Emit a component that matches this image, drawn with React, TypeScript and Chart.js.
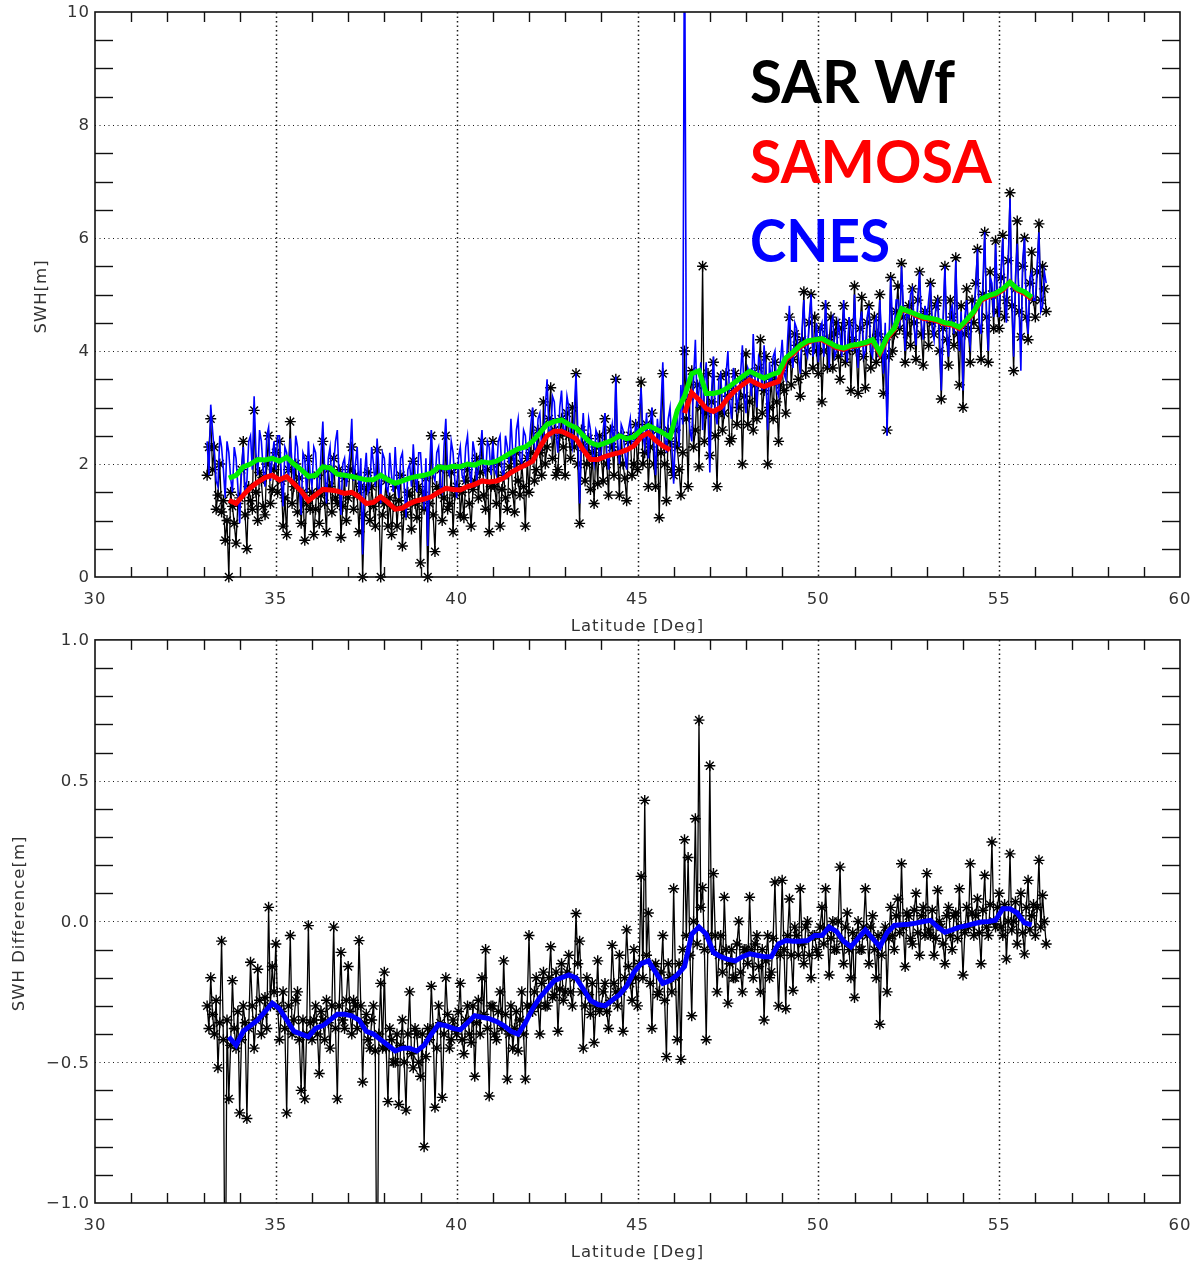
import React, { useEffect, useRef } from 'react';
import { Chart, registerables } from 'chart.js';

Chart.register(...registerables);

// ---------------------------------------------------------------------------
// Sampling grids (degrees north)
// ---------------------------------------------------------------------------
// track samples, one value every 0.05 degree from 33.10N to 56.30N
const TRACK_LAT_START = 33.1;
const TRACK_LAT_STEP = 0.05;
// running-mean curves, one value every 0.2 degree from 33.7N to 55.9N
const MEAN_LAT_START = 33.7;
const MEAN_LAT_STEP = 0.2;

// ---------------------------------------------------------------------------
// Axis ticks
// ---------------------------------------------------------------------------
const LAT_TICKS = [30, 35, 40, 45, 50, 55, 60];
const LAT_MINOR_STEP = 1;
const SWH_TICKS = [0, 2, 4, 6, 8, 10];
const SWH_MINOR_STEP = 0.5;
const DIFF_TICKS = [-1.0, -0.5, 0.0, 0.5, 1.0];
const DIFF_MINOR_STEP = 0.1;

// ---------------------------------------------------------------------------
// SWH [m] along track (rows: 33.10-33.95, one row per degree, 56.00-56.30)
// ---------------------------------------------------------------------------
const SAR_WF_SWH = [
  1.8, 2.3, 2.8, 1.9, 2.3, 1.2, 1.45, 2.0, 1.15, 1.35, 0.65, 1.0, 0.0, 1.5, 1.25, 0.95, 0.6, 1.3,
  1.4, 1.9, 2.4, 1.1, 0.5, 1.6, 1.35, 1.2, 2.95, 1.5, 1.0, 1.85, 1.7, 1.25, 1.1, 2.0, 2.5, 1.3, 1.55, 1.9,
  2.2, 1.5, 2.4, 1.7, 0.9, 1.4, 0.75, 1.9, 2.75, 1.3, 1.6, 2.0, 1.15, 1.75, 0.95, 1.5, 0.65, 1.3, 2.1, 1.2,
  1.5, 0.75, 1.2, 1.8, 0.95, 1.45, 2.4, 1.3, 0.8, 1.9, 1.6, 1.15, 2.1, 1.4, 1.3, 1.9, 0.7, 1.25, 1.75, 1.0,
  1.4, 1.9, 2.3, 1.2, 1.8, 1.45, 0.8, 1.6, 0.0, 1.1, 1.55, 1.85, 1.0, 1.6, 1.25, 0.9, 2.25, 1.35, 0.0, 1.1,
  1.3, 1.7, 0.9, 1.4, 0.75, 1.25, 1.6, 0.9, 1.35, 1.8, 0.55, 1.2, 1.1, 1.5, 1.45, 0.85, 2.05, 1.3, 1.05, 1.6,
  0.25, 1.5, 1.2, 1.75, 0.0, 1.3, 2.5, 1.1, 0.45, 1.6, 1.5, 1.9, 1.0, 1.4, 2.5, 1.2, 1.3, 1.85, 0.8, 1.45,
  1.6, 1.95, 1.1, 1.5, 1.05, 1.7, 1.9, 1.3, 0.9, 1.55, 1.7, 2.1, 1.4, 1.85, 2.4, 1.45, 1.2, 1.9, 0.8, 1.6,
  2.4, 1.6, 1.3, 2.0, 0.9, 1.55, 1.8, 1.4, 1.2, 1.95, 2.1, 1.5, 1.15, 2.2, 1.7, 1.45, 2.0, 1.6, 0.9, 2.1,
  1.5, 2.2, 2.9, 1.7, 1.9, 2.6, 2.2, 1.8, 3.1, 2.0, 2.3, 2.8, 3.35, 2.1, 2.6, 1.8, 1.9, 2.5, 2.8, 2.3,
  1.8, 2.9, 2.5, 2.1, 3.0, 2.3, 3.6, 2.0, 0.95, 2.6, 2.3, 1.7, 2.0, 2.45, 1.55, 2.2, 1.3, 2.3, 1.65, 2.5,
  2.1, 1.7, 2.8, 2.0, 1.45, 2.6, 2.3, 1.8, 3.5, 2.2, 1.45, 2.5, 2.0, 1.75, 1.35, 2.4, 2.5, 1.8, 2.0, 2.7,
  1.9, 2.5, 3.45, 2.0, 2.2, 2.7, 1.6, 2.3, 2.9, 2.0, 1.6, 2.6, 1.05, 2.2, 3.6, 2.0, 1.35, 2.6, 2.4, 1.9,
  1.8, 2.6, 2.3, 1.9, 1.45, 2.2, 4.0, 2.8, 1.6, 3.2, 3.65, 2.3, 2.6, 3.4, 1.95, 3.0, 5.5, 2.4, 2.9, 3.6,
  2.15, 3.1, 3.8, 2.5, 1.6, 2.9, 3.55, 2.6, 2.9, 3.6, 3.2, 2.4, 2.45, 3.3, 3.6, 2.7, 3.0, 3.5, 2.0, 3.2,
  3.95, 2.7, 3.1, 3.6, 2.6, 3.4, 2.8, 3.7, 4.2, 2.9, 3.3, 3.9, 2.0, 3.0, 3.5, 2.8, 3.8, 3.1, 2.4, 3.4,
  3.65, 3.3, 2.9, 3.8, 4.6, 3.4, 3.85, 4.3, 4.1, 3.5, 3.2, 4.2, 5.05, 3.6, 4.0, 4.5, 5.0, 3.7, 4.6, 4.0,
  3.6, 4.4, 3.1, 4.0, 4.8, 3.7, 4.2, 4.6, 3.7, 4.3, 4.5, 3.9, 3.5, 4.4, 4.8, 3.8, 4.0, 4.5, 3.3, 4.2,
  5.15, 4.0, 3.25, 4.4, 4.95, 3.9, 3.35, 4.5, 4.8, 3.7, 4.2, 4.6, 3.8, 4.3, 5.0, 3.9, 3.25, 4.2, 2.6, 3.9,
  5.3, 4.0, 4.3, 4.7, 5.15, 4.4, 5.55, 4.6, 3.8, 4.3, 4.8, 4.1, 5.1, 4.5, 3.85, 4.9, 5.4, 4.3, 3.75, 4.7,
  4.6, 4.1, 5.2, 4.5, 4.3, 4.8, 4.9, 4.0, 3.15, 4.4, 5.5, 4.2, 3.75, 4.9, 4.6, 4.1, 5.65, 4.3, 3.4, 4.8,
  3.0, 4.3, 5.1, 4.4, 3.8, 4.9, 4.5, 5.2, 5.8, 4.4, 3.85, 5.0, 6.1, 4.6, 3.8, 5.4, 5.0, 4.4, 5.95, 4.7,
  4.4, 5.3, 6.05, 4.6, 4.9, 5.6, 6.8, 4.8, 3.65, 5.1, 6.3, 4.7, 4.25, 5.5, 6.0, 4.6, 4.2, 5.2, 5.75, 4.9,
  4.6, 5.4, 6.25, 4.9, 5.5, 5.1, 4.7,
];

const CNES_SWH = [
  2.4, 1.8, 3.05, 2.6, 2.2, 1.7, 1.6, 2.5, 2.3, 1.9, 1.4, 2.4, 2.2, 1.75, 1.5, 2.3, 2.1, 1.6,
  0.95, 1.9, 2.3, 1.5, 1.7, 2.4, 2.5, 1.9, 3.2, 2.2, 1.8, 2.6, 2.4, 1.9, 1.6, 2.5, 2.65, 1.7, 2.1, 2.4,
  1.9, 2.5, 2.5, 1.8, 1.25, 2.3, 2.2, 1.7, 2.45, 2.0, 1.7, 2.5, 2.3, 1.6, 1.1, 2.2, 2.1, 1.5, 2.4, 1.8,
  1.6, 2.3, 2.2, 1.6, 1.5, 2.2, 2.75, 1.9, 1.3, 2.1, 2.3, 1.6, 2.0, 2.4, 2.6, 1.7, 1.1, 2.0, 2.1, 1.6,
  1.9, 2.2, 2.8, 1.7, 2.0, 2.3, 1.5, 2.1, 0.4, 1.8, 2.2, 1.5, 1.6, 2.3, 2.0, 1.6, 2.45, 1.9, 1.3, 2.2,
  2.1, 1.6, 1.5, 2.2, 1.8, 1.5, 2.3, 1.7, 1.4, 2.1, 2.2, 1.6, 1.05, 1.9, 2.0, 1.6, 2.35, 1.8, 1.5, 2.2,
  2.2, 1.7, 1.2, 2.1, 0.55, 1.9, 2.6, 1.8, 1.7, 2.2, 2.3, 1.6, 1.5, 2.3, 2.8, 1.9, 1.8, 2.4, 2.2, 1.7,
  1.4, 2.1, 2.3, 1.8, 1.7, 2.3, 2.5, 1.9, 1.6, 2.4, 2.2, 1.7, 1.9, 2.2, 2.6, 1.9, 1.8, 2.4, 2.3, 1.8,
  2.4, 1.9, 1.8, 2.4, 2.5, 1.9, 1.7, 2.5, 2.3, 2.0, 2.8, 2.2, 1.9, 2.6, 2.8, 2.1, 2.0, 2.6, 2.5, 2.0,
  2.25, 2.7, 3.0, 2.3, 2.2, 2.8, 2.9, 2.3, 2.4, 3.0, 3.5, 2.6, 2.5, 3.2, 3.1, 2.5, 2.2, 3.0, 3.3, 2.6,
  2.6, 3.2, 3.0, 2.5, 2.3, 2.9, 3.6, 2.6, 1.3, 2.4, 2.9, 2.3, 2.2, 2.8, 2.6, 2.2, 2.0, 2.6, 2.5, 2.1,
  2.2, 2.6, 2.9, 2.2, 1.9, 2.5, 2.7, 2.2, 3.55, 2.4, 2.0, 2.7, 2.6, 2.2, 1.9, 2.6, 2.8, 2.3, 2.3, 2.7,
  2.5, 2.9, 3.35, 2.5, 2.3, 2.9, 2.1, 2.7, 3.0, 2.4, 1.8, 2.8, 2.4, 3.0, 3.8, 2.5, 2.2, 2.8, 3.0, 2.3,
  1.65, 2.6, 2.9, 2.3, 3.4, 2.7, 12.0, 3.6, 3.0, 2.6, 2.4, 3.5, 4.2, 3.0, 3.3, 3.8, 2.6, 3.4, 3.8, 2.9,
  1.85, 3.3, 3.9, 2.9, 2.7, 3.5, 3.6, 3.0, 2.9, 3.6, 4.0, 3.1, 2.8, 3.7, 3.5, 3.0, 3.2, 3.6, 4.1, 3.2,
  2.9, 3.7, 3.6, 3.2, 4.3, 3.5, 3.0, 3.9, 3.8, 3.3, 4.1, 3.6, 2.6, 3.8, 3.4, 3.9, 4.0, 3.3, 3.2, 3.8,
  4.2, 3.6, 3.5, 4.2, 4.8, 3.9, 3.7, 4.5, 4.4, 3.9, 3.6, 4.4, 4.9, 4.0, 3.9, 4.6, 5.0, 3.9, 4.1, 4.5,
  3.8, 4.4, 4.5, 3.9, 4.9, 4.2, 3.7, 4.5, 4.6, 3.9, 4.0, 4.5, 4.3, 3.9, 4.9, 4.1, 3.8, 4.6, 4.4, 4.0,
  5.0, 4.1, 3.7, 4.5, 4.7, 3.9, 4.0, 4.6, 4.8, 4.0, 3.9, 4.5, 4.6, 3.9, 4.9, 4.2, 3.6, 4.5, 2.5, 4.0,
  5.3, 4.5, 4.4, 4.9, 4.9, 4.4, 5.5, 4.8, 4.0, 4.7, 4.6, 5.0, 5.1, 4.4, 4.1, 4.9, 5.4, 4.5, 4.2, 4.8,
  4.5, 4.9, 5.2, 4.4, 4.2, 4.8, 4.9, 4.3, 3.3, 4.6, 5.5, 4.3, 3.9, 4.7, 4.8, 4.3, 5.6, 4.5, 4.0, 4.7,
  3.3, 4.6, 4.9, 4.3, 4.1, 4.8, 4.7, 5.1, 5.8, 4.5, 4.3, 5.2, 6.1, 4.7, 4.0, 5.3, 5.2, 4.6, 5.9, 5.0,
  4.6, 5.4, 6.0, 4.9, 4.5, 5.5, 6.7, 5.0, 3.9, 5.3, 5.9, 4.8, 3.65, 5.6, 6.0, 4.8, 4.3, 5.3, 5.4, 4.9,
  4.9, 5.5, 6.1, 4.7, 4.8, 5.4, 5.2,
];

// Running means (rows: 33.7-33.9, then one row per degree)
const SAMOSA_MEAN_SWH = [
  1.36, 1.3,
  1.45, 1.58, 1.68, 1.76, 1.8,
  1.72, 1.78, 1.65, 1.52, 1.35,
  1.45, 1.55, 1.54, 1.52, 1.48,
  1.5, 1.42, 1.3, 1.32, 1.42,
  1.32, 1.2, 1.22, 1.3, 1.35,
  1.38, 1.42, 1.5, 1.57, 1.55,
  1.54, 1.6, 1.64, 1.7, 1.68,
  1.7, 1.75, 1.85, 1.92, 1.98,
  2.05, 2.3, 2.5, 2.58, 2.58,
  2.52, 2.45, 2.25, 2.08, 2.08,
  2.13, 2.17, 2.2, 2.25, 2.32,
  2.48, 2.55, 2.42, 2.32, 2.25,
  null, 2.9, 3.26, 3.14, 2.98,
  2.93, 3.0, 3.17, 3.3, 3.4,
  3.49, 3.42, 3.37, 3.42, 3.46,
  3.85, 3.95, 4.08, 4.15, 4.2,
  4.2, 4.13, 4.06, 4.03, 4.08,
  4.1, 4.13, 4.18, 3.95, 4.22,
  4.38, 4.73, 4.7, 4.63, 4.58,
  4.56, 4.53, 4.48, 4.46, 4.4,
  4.53, 4.68, 4.9, 4.96, 5.0,
  5.08, 5.22, 5.08, 5.02, 4.92,
];

const CNES_MEAN_SWH = [
  1.75, 1.8,
  1.95, 2.0, 2.08, 2.07, 2.1,
  2.05, 2.12, 2.0, 1.9, 1.78,
  1.8, 1.95, 1.93, 1.82, 1.8,
  1.78, 1.75, 1.72, 1.72, 1.8,
  1.72, 1.66, 1.7, 1.75, 1.78,
  1.8, 1.84, 1.95, 1.93, 1.96,
  1.95, 2.0, 1.98, 2.04, 2.02,
  2.05, 2.12, 2.2, 2.27, 2.3,
  2.4, 2.55, 2.7, 2.75, 2.78,
  2.7, 2.64, 2.5, 2.38, 2.33,
  2.37, 2.42, 2.5, 2.45, 2.48,
  2.6, 2.68, 2.62, 2.55, 2.47,
  2.95, 3.2, 3.6, 3.65, 3.25,
  3.25, 3.28, 3.35, 3.45, 3.55,
  3.64, 3.58, 3.52, 3.58, 3.62,
  3.88, 3.98, 4.1, 4.18, 4.2,
  4.22, 4.15, 4.08, 4.05, 4.1,
  4.12, 4.15, 4.2, 3.98, 4.25,
  4.4, 4.75, 4.7, 4.65, 4.6,
  4.58, 4.55, 4.5, 4.48, 4.42,
  4.55, 4.7, 4.92, 4.98, 5.02,
  5.1, 5.22, 5.1, 5.05, 4.95,
];

// ---------------------------------------------------------------------------
// SWH difference [m], same track grid
// ---------------------------------------------------------------------------
const SWH_DIFF = [
  -0.3, -0.38, -0.2, -0.33, -0.4, -0.28, -0.52, -0.36, -0.07, -0.42, -1.5, -0.35, -0.63, -0.44, -0.21, -0.38, -0.45, -0.32,
  -0.68, -0.42, -0.3, -0.36, -0.7, -0.38, -0.145, -0.3, -0.45, -0.35, -0.17, -0.28, -0.4, -0.33, -0.27, -0.38, 0.05, -0.3, -0.16, -0.25,
  -0.08, -0.3, -0.42, -0.32, -0.25, -0.38, -0.68, -0.3, -0.05, -0.4, -0.35, -0.28, -0.25, -0.42, -0.6, -0.35, -0.63, -0.4, -0.015, -0.36,
  -0.42, -0.35, -0.3, -0.4, -0.54, -0.32, -0.35, -0.42, -0.28, -0.36, -0.45, -0.3, -0.02, -0.38, -0.63, -0.3, -0.11, -0.35, -0.38, -0.28,
  -0.16, -0.32, -0.4, -0.28, -0.3, -0.38, -0.068, -0.3, -0.57, -0.36, -0.33, -0.42, -0.45, -0.35, -0.3, -0.46, -1.5, -0.4, -0.22, -0.45,
  -0.18, -0.45, -0.64, -0.38, -0.42, -0.5, -0.5, -0.4, -0.65, -0.44, -0.35, -0.5, -0.67, -0.4, -0.25, -0.47, -0.52, -0.38, -0.4, -0.5,
  -0.55, -0.4, -0.8, -0.48, -0.38, -0.42, -0.23, -0.38, -0.66, -0.45, -0.3, -0.36, -0.625, -0.4, -0.2, -0.33, -0.45, -0.42, -0.35, -0.38,
  -0.4, -0.32, -0.22, -0.42, -0.47, -0.35, -0.3, -0.4, -0.43, -0.3, -0.55, -0.36, -0.28, -0.4, -0.2, -0.33, -0.1, -0.38, -0.62, -0.3,
  -0.3, -0.4, -0.42, -0.32, -0.25, -0.38, -0.14, -0.33, -0.56, -0.4, -0.3, -0.45, -0.38, -0.32, -0.46, -0.35, -0.25, -0.4, -0.56, -0.3,
  -0.05, -0.3, -0.32, -0.25, -0.2, -0.3, -0.4, -0.22, -0.18, -0.3, -0.3, -0.2, -0.09, -0.27, -0.26, -0.18, -0.39, -0.24, -0.15, -0.28,
  -0.25, -0.18, -0.12, -0.25, -0.3, -0.2, 0.028, -0.15, -0.07, -0.25, -0.45, -0.3, -0.2, -0.26, -0.33, -0.22, -0.43, -0.3, -0.14, -0.32,
  -0.3, -0.25, -0.22, -0.32, -0.38, -0.28, -0.085, -0.22, -0.25, -0.3, -0.12, -0.25, -0.39, -0.2, -0.03, -0.16, -0.22, -0.28, -0.1, -0.2,
  -0.3, -0.15, 0.16, -0.2, 0.43, -0.12, 0.03, -0.22, -0.38, -0.16, -0.15, -0.26, -0.25, -0.18, -0.05, -0.28, -0.48, -0.15, -0.2, -0.25,
  0.116, -0.2, -0.42, -0.15, -0.49, -0.1, 0.29, -0.05, 0.227, -0.12, -0.335, 0.0, 0.365, -0.08, 0.715, 0.05, 0.12, -0.1, -0.42, -0.05,
  0.553, -0.1, 0.17, -0.05, -0.25, -0.12, -0.05, -0.18, 0.086, -0.1, -0.29, -0.15, -0.1, -0.2, -0.2, -0.08, 0.0, -0.18, -0.25, -0.1,
  -0.1, -0.15, 0.086, -0.1, -0.2, -0.08, -0.05, -0.16, -0.25, -0.1, -0.35, -0.14, -0.05, -0.2, -0.18, -0.06, 0.14, -0.1, -0.3, -0.12,
  0.146, -0.1, -0.31, -0.05, 0.08, -0.12, -0.245, -0.02, -0.05, -0.12, 0.116, -0.08, -0.15, -0.02, 0.0, -0.12, -0.2, -0.05, -0.05, -0.1,
  -0.12, -0.02, 0.05, -0.08, 0.116, -0.03, -0.19, -0.06, 0.0, -0.1, -0.1, 0.0, 0.193, -0.07, -0.15, -0.02, 0.03, -0.1, -0.2, -0.04,
  -0.27, -0.06, 0.0, -0.1, -0.1, -0.02, 0.116, -0.05, -0.15, -0.02, 0.02, -0.1, -0.2, -0.05, -0.365, -0.12, -0.05, -0.02, -0.25, -0.06,
  0.05, -0.05, -0.1, 0.02, 0.08, -0.04, 0.205, -0.02, -0.16, 0.03, 0.02, -0.06, -0.08, 0.04, 0.1, -0.04, -0.12, 0.02, 0.05, -0.05,
  0.17, -0.03, -0.05, 0.04, -0.12, -0.06, 0.11, 0.0, -0.02, -0.08, -0.15, 0.02, 0.05, -0.05, -0.1, 0.02, 0.03, -0.06, 0.116, -0.02,
  -0.19, -0.04, 0.05, -0.02, 0.205, 0.03, -0.05, 0.02, 0.08, -0.04, -0.15, 0.04, 0.164, -0.02, -0.05, 0.06, 0.282, 0.0, -0.02, 0.05,
  0.1, -0.02, -0.05, 0.06, -0.133, 0.0, 0.24, -0.03, 0.0, 0.07, -0.08, 0.02, 0.1, -0.04, -0.115, 0.05, 0.146, -0.03, 0.02, 0.06,
  -0.05, 0.05, 0.217, -0.02, 0.093, 0.0, -0.08,
];

const SWH_DIFF_MEAN = [
  -0.41, -0.44,
  -0.39, -0.37, -0.35, -0.32, -0.29,
  -0.31, -0.35, -0.39, -0.4, -0.41,
  -0.38, -0.37, -0.35, -0.33, -0.33,
  -0.335, -0.35, -0.39, -0.4, -0.42,
  -0.44, -0.46, -0.45, -0.45, -0.46,
  -0.44, -0.4, -0.365, -0.37, -0.38,
  -0.385, -0.36, -0.335, -0.34, -0.345,
  -0.355, -0.37, -0.39, -0.4, -0.36,
  -0.31, -0.27, -0.24, -0.21, -0.2,
  -0.19, -0.2, -0.24, -0.28, -0.295,
  -0.3, -0.28, -0.26, -0.23, -0.18,
  -0.15, -0.14, -0.18, -0.22, -0.21,
  -0.19, -0.16, -0.045, -0.02, -0.045,
  -0.11, -0.125, -0.135, -0.14, -0.125,
  -0.115, -0.12, -0.125, -0.125, -0.08,
  -0.068, -0.07, -0.07, -0.068, -0.05,
  -0.05, -0.02, -0.035, -0.07, -0.09,
  -0.06, -0.03, -0.06, -0.09, -0.04,
  -0.014, -0.012, -0.01, -0.006, 0.0,
  0.004, -0.02, -0.038, -0.03, -0.02,
  -0.015, -0.008, -0.002, 0.0, 0.004,
  0.045, 0.045, 0.03, -0.005, -0.012,
];

// ---------------------------------------------------------------------------
// Helpers
// ---------------------------------------------------------------------------
type Pt = { x: number; y: number | null };

const onGrid = (values: (number | null)[], start: number, step: number): Pt[] =>
  values.map((v, i) => ({ x: Math.round((start + i * step) * 1000) / 1000, y: v }));

const BLACK = '#000000';
const RED = '#ff0000';
const GREEN = '#00ee00';
const BLUE = '#0000ff';
const INK = '#333333';
const LABEL_FONT = '16.5px "DejaVu Sans"';

interface LegendLine {
  text: string;
  color: string;
  width: number;
}

interface FrameCfg {
  xTicks: number[];
  xMinor: number;
  yTicks: number[];
  yMinor: number;
  yLabel: (v: number) => string;
  xTitle: string;
  yTitle: string;
  yTitleX: number;
  yTitleShift: number;
  legend?: LegendLine[];
}

const strokeLine = (ctx: CanvasRenderingContext2D, x1: number, y1: number, x2: number, y2: number) => {
  ctx.beginPath();
  ctx.moveTo(x1, y1);
  ctx.lineTo(x2, y2);
  ctx.stroke();
};

const isMajor = (v: number, ticks: number[]) => ticks.some((t) => Math.abs(t - v) < 1e-6);

// IDL-style box: dotted grid at major ticks, inward minor ticks on all four
// sides, tick labels, axis titles and an optional coloured text legend.
function makeFramePlugin(cfg: FrameCfg) {
  return {
    id: 'idlFrame',
    beforeDatasetsDraw(chart: Chart) {
      const { ctx, chartArea: a } = chart;
      const xs = chart.scales.x;
      const ys = chart.scales.y;
      ctx.save();
      ctx.strokeStyle = '#1a1a1a';
      ctx.lineWidth = 1.5;
      ctx.setLineDash([1.5, 3]);
      for (const t of cfg.xTicks) {
        if (t <= xs.min || t >= xs.max) continue;
        const px = Math.round(xs.getPixelForValue(t)) + 0.5;
        strokeLine(ctx, px, a.top, px, a.bottom);
      }
      ctx.lineWidth = 1;
      ctx.setLineDash([1, 3.5]);
      for (const t of cfg.yTicks) {
        if (t <= ys.min || t >= ys.max) continue;
        const py = Math.round(ys.getPixelForValue(t)) + 0.5;
        strokeLine(ctx, a.left, py, a.right, py);
      }
      ctx.restore();
    },
    afterDatasetsDraw(chart: Chart) {
      const { ctx, chartArea: a } = chart;
      const xs = chart.scales.x;
      const ys = chart.scales.y;
      ctx.save();
      ctx.strokeStyle = '#111';
      ctx.setLineDash([]);

      // minor ticks
      ctx.lineWidth = 1.4;
      const xLen = 10;
      const yLen = 18;
      const nx = Math.round((xs.max - xs.min) / cfg.xMinor);
      for (let k = 1; k < nx; k++) {
        const v = xs.min + k * cfg.xMinor;
        if (isMajor(v, cfg.xTicks)) continue;
        const px = Math.round(xs.getPixelForValue(v)) + 0.5;
        strokeLine(ctx, px, a.bottom, px, a.bottom - xLen);
        strokeLine(ctx, px, a.top, px, a.top + xLen);
      }
      const ny = Math.round((ys.max - ys.min) / cfg.yMinor);
      for (let k = 1; k < ny; k++) {
        const v = ys.min + k * cfg.yMinor;
        if (isMajor(v, cfg.yTicks)) continue;
        const py = Math.round(ys.getPixelForValue(v)) + 0.5;
        strokeLine(ctx, a.left, py, a.left + yLen, py);
        strokeLine(ctx, a.right, py, a.right - yLen, py);
      }

      // box
      ctx.lineWidth = 1.6;
      ctx.strokeRect(a.left, a.top, a.right - a.left, a.bottom - a.top);

      // tick labels
      ctx.fillStyle = INK;
      ctx.font = LABEL_FONT;
      (ctx as any).letterSpacing = '1px';
      ctx.textAlign = 'center';
      ctx.textBaseline = 'middle';
      for (const t of cfg.xTicks) {
        ctx.fillText(String(t), xs.getPixelForValue(t), a.bottom + 23);
      }
      ctx.textAlign = 'right';
      for (const t of cfg.yTicks) {
        ctx.fillText(cfg.yLabel(t), a.left - 5, ys.getPixelForValue(t) + 1);
      }

      // axis titles
      ctx.textAlign = 'center';
      ctx.fillText(cfg.xTitle, (a.left + a.right) / 2, a.bottom + 50);
      ctx.save();
      ctx.translate(cfg.yTitleX, (a.top + a.bottom) / 2 + cfg.yTitleShift);
      ctx.rotate(-Math.PI / 2);
      ctx.fillText(cfg.yTitle, 0, 0);
      ctx.restore();
      (ctx as any).letterSpacing = '0px';

      // text legend
      if (cfg.legend) {
        ctx.font = 'bold 59px Lato';
        ctx.textAlign = 'left';
        ctx.textBaseline = 'alphabetic';
        cfg.legend.forEach((item, i) => {
          const w = ctx.measureText(item.text).width;
          ctx.save();
          ctx.translate(a.left + 655, a.top + 91 + i * 79.5);
          ctx.scale(item.width / w, 1);
          ctx.fillStyle = item.color;
          ctx.fillText(item.text, 0, 0);
          ctx.restore();
        });
      }
      ctx.restore();
    },
  };
}

const formatSwh = (v: number) => String(v);
const formatDiff = (v: number) => (v < 0 ? '\u2212' : '') + Math.abs(v).toFixed(1);

function baseOptions(yMin: number, yMax: number, padding: { top: number; bottom: number }) {
  return {
    responsive: false,
    animation: false as const,
    devicePixelRatio: 1,
    events: [] as string[],
    layout: { padding: { left: 95, right: 15, top: padding.top, bottom: padding.bottom } },
    plugins: { legend: { display: false }, tooltip: { enabled: false } },
    scales: {
      x: { type: 'linear' as const, min: 30, max: 60, display: false },
      y: { type: 'linear' as const, min: yMin, max: yMax, display: false },
    },
  };
}

// black line with asterisk symbols at every sample
const starSeries = {
  borderColor: BLACK,
  borderWidth: 1.3,
  pointStyle: 'star' as const,
  pointRadius: 5.5,
  pointBorderWidth: 1.4,
  pointBorderColor: BLACK,
  pointBackgroundColor: BLACK,
  tension: 0,
};

export default function App() {
  const topRef = useRef<HTMLCanvasElement>(null);
  const bottomRef = useRef<HTMLCanvasElement>(null);

  useEffect(() => {
    const top = new Chart(topRef.current as HTMLCanvasElement, {
      type: 'line',
      data: {
        datasets: [
          {
            label: 'CNES running mean',
            data: onGrid(CNES_MEAN_SWH, MEAN_LAT_START, MEAN_LAT_STEP),
            borderColor: GREEN,
            borderWidth: 5,
            pointRadius: 0,
            tension: 0,
          },
          {
            label: 'SAMOSA running mean',
            data: onGrid(SAMOSA_MEAN_SWH, MEAN_LAT_START, MEAN_LAT_STEP),
            borderColor: RED,
            borderWidth: 5,
            pointRadius: 0,
            tension: 0,
            spanGaps: false,
          },
          {
            label: 'CNES',
            data: onGrid(CNES_SWH, TRACK_LAT_START, TRACK_LAT_STEP),
            borderColor: BLUE,
            borderWidth: 1.6,
            pointRadius: 0,
            tension: 0,
          },
          {
            label: 'SAR Wf',
            data: onGrid(SAR_WF_SWH, TRACK_LAT_START, TRACK_LAT_STEP),
            ...starSeries,
            clip: { left: 6, top: 0, right: 6, bottom: 6 },
          },
        ],
      },
      options: baseOptions(0, 10, { top: 12, bottom: 56 }) as any,
      plugins: [
        makeFramePlugin({
          xTicks: LAT_TICKS,
          xMinor: LAT_MINOR_STEP,
          yTicks: SWH_TICKS,
          yMinor: SWH_MINOR_STEP,
          yLabel: formatSwh,
          xTitle: 'Latitude [Deg]',
          yTitle: 'SWH[m]',
          yTitleX: 42,
          yTitleShift: 2,
          legend: [
            { text: 'SAR Wf', color: BLACK, width: 205 },
            { text: 'SAMOSA', color: RED, width: 242 },
            { text: 'CNES', color: BLUE, width: 140 },
          ],
        }),
      ],
    });

    const bottom = new Chart(bottomRef.current as HTMLCanvasElement, {
      type: 'line',
      data: {
        datasets: [
          {
            label: 'Difference running mean',
            data: onGrid(SWH_DIFF_MEAN, MEAN_LAT_START, MEAN_LAT_STEP),
            borderColor: BLUE,
            borderWidth: 5,
            pointRadius: 0,
            tension: 0,
          },
          {
            label: 'SWH difference',
            data: onGrid(SWH_DIFF, TRACK_LAT_START, TRACK_LAT_STEP),
            ...starSeries,
            clip: 0,
          },
        ],
      },
      options: baseOptions(-1, 1, { top: 6, bottom: 62 }) as any,
      plugins: [
        makeFramePlugin({
          xTicks: LAT_TICKS,
          xMinor: LAT_MINOR_STEP,
          yTicks: DIFF_TICKS,
          yMinor: DIFF_MINOR_STEP,
          yLabel: formatDiff,
          xTitle: 'Latitude [Deg]',
          yTitle: 'SWH Difference[m]',
          yTitleX: 20,
          yTitleShift: 2,
        }),
      ],
    });

    return () => {
      top.destroy();
      bottom.destroy();
    };
  }, []);

  return (
    <div style={{ position: 'absolute', left: 0, top: 0, width: 1195, height: 1265, background: '#ffffff' }}>
      <canvas ref={topRef} width={1195} height={633} style={{ position: 'absolute', left: 0, top: 0 }} />
      <canvas ref={bottomRef} width={1195} height={632} style={{ position: 'absolute', left: 0, top: 633 }} />
    </div>
  );
}
